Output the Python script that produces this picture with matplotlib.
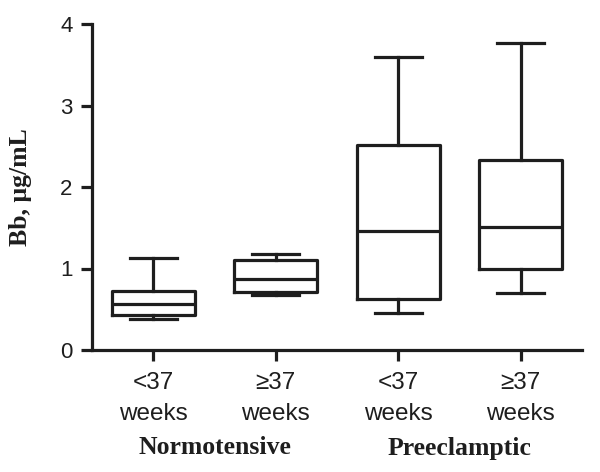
import matplotlib
matplotlib.use("Agg")
import matplotlib.pyplot as plt

groups = ["<37\nweeks", "\u226537\nweeks", "<37\nweeks", "\u226537\nweeks"]
whisker_low = [0.38, 0.68, 0.46, 0.70]
q1 = [0.43, 0.71, 0.63, 0.99]
median = [0.56, 0.875, 1.46, 1.51]
q3 = [0.73, 1.11, 2.51, 2.33]
whisker_high = [1.125, 1.18, 3.59, 3.77]
group_labels = ["Normotensive", "Preeclamptic"]
yticks = [0, 1, 2, 3, 4]

W, H = 600, 472
ax_left, ax_bottom, ax_w, ax_h = 92 / W, (H - 350) / H, 490 / W, 326 / H

fig = plt.figure(figsize=(6, 4.72), dpi=100)
ax = fig.add_axes([ax_left, ax_bottom, ax_w, ax_h])

stats = []
for i in range(len(groups)):
    stats.append(dict(whislo=whisker_low[i], q1=q1[i], med=median[i],
                      q3=q3[i], whishi=whisker_high[i], fliers=[]))

ink = "#1e1e1e"
lw = 2.3
ax.bxp(stats, positions=[1, 2, 3, 4], widths=0.68, showfliers=False,
       boxprops=dict(color=ink, linewidth=lw),
       medianprops=dict(color=ink, linewidth=lw),
       whiskerprops=dict(color=ink, linewidth=lw),
       capprops=dict(color=ink, linewidth=lw),
       capwidths=0.38)

ax.set_xlim(0.5, 4.5)
ax.set_ylim(0, 4)
ax.set_yticks(yticks)
ax.set_xticks([1, 2, 3, 4])
ax.set_xticklabels(groups, fontsize=17.5, family="Liberation Sans", color=ink,
                   linespacing=1.5)
ax.set_yticklabels([str(v) for v in yticks], fontsize=16, family="Liberation Sans",
                   color=ink)
for s in ["top", "right"]:
    ax.spines[s].set_visible(False)
for s in ["left", "bottom"]:
    ax.spines[s].set_linewidth(2.3)
    ax.spines[s].set_color(ink)
ax.tick_params(axis="both", width=2.3, length=8, color=ink)
ax.tick_params(axis="y", pad=6)
ax.tick_params(axis="x", pad=8)

ax.set_ylabel("Bb, \u03bcg/mL", fontsize=18.5, fontweight="bold", family="Liberation Serif",
              color=ink)
ax.yaxis.set_label_coords((32 - 92) / 490, 0.5)

for i, g in enumerate(group_labels):
    ax.text(1.5 + 2 * i, (H - 448 - (H - 350)) / 326, g,
            transform=ax.get_xaxis_transform(),
            ha="center", va="center", fontsize=18.5, fontweight="bold",
            family="Liberation Serif", color=ink)

fig.savefig("out.png", dpi=100)
